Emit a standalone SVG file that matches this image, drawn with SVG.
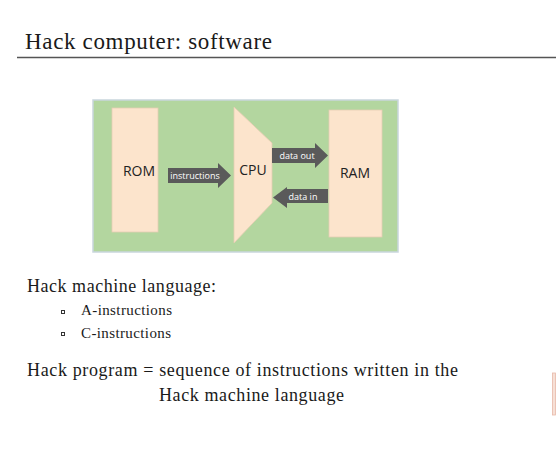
<svg xmlns="http://www.w3.org/2000/svg" width="556" height="460" viewBox="0 0 556 460">
<style>
.serif{font-family:"Liberation Serif","Times New Roman",serif;fill:#1a1a1a}
.lbl{font-family:"Open Sans","Noto Sans",sans-serif;fill:#222;font-size:14px;text-anchor:middle}
.al{font-family:"Open Sans","Noto Sans",sans-serif;fill:#fff;font-size:9px;text-anchor:middle}
.blk{fill:#FCE4CC;stroke:#e6cdb3;stroke-width:0.8}
.arr{fill:#5a5a5a}
.bul{fill:none;stroke:#333;stroke-width:1}
</style>
<rect width="556" height="460" fill="#fff"/>
<text class="serif" x="25" y="49" font-size="23" textLength="247" lengthAdjust="spacing">Hack computer: software</text>
<line x1="17" y1="57.5" x2="556" y2="57.5" stroke="#555" stroke-width="1.5"/>
<g id="board">
<rect x="93" y="100" width="305" height="152" fill="#B3D69F" stroke="#c9d6dd" stroke-width="1.5"/>
</g>
<g id="rom">
<rect class="blk" x="112" y="108" width="46" height="124"/>
<text class="lbl" x="139" y="176">ROM</text>
</g>
<g id="cpu">
<polygon class="blk" points="234,107 272,143 272,203 234,243"/>
<text class="lbl" x="253" y="175">CPU</text>
</g>
<g id="ram">
<rect class="blk" x="329" y="110" width="53" height="127"/>
<text class="lbl" x="355" y="178">RAM</text>
</g>
<g id="connectors">
<polygon class="arr" points="168,168 218,168 218,163 231,175.5 218,188 218,183 168,183"/>
<text class="al" x="195" y="179">instructions</text>
<polygon class="arr" points="272,148 315,148 315,143 328,155.5 315,168 315,163 272,163"/>
<text class="al" x="297" y="159">data out</text>
<polygon class="arr" points="328,189 287,189 287,187 273,197.5 287,208 287,203 328,203"/>
<text class="al" x="303" y="199.5">data in</text>
</g>
<text class="serif" x="27" y="292" font-size="18" textLength="189" lengthAdjust="spacing">Hack machine language:</text>
<rect class="bul" x="61.5" y="310.5" width="3" height="3"/>
<text class="serif" x="81" y="315" font-size="15" textLength="91" lengthAdjust="spacing">A-instructions</text>
<rect class="bul" x="61.5" y="332.5" width="3" height="3"/>
<text class="serif" x="81" y="338" font-size="15" textLength="90" lengthAdjust="spacing">C-instructions</text>
<text class="serif" x="27" y="376" font-size="18" textLength="431" lengthAdjust="spacing">Hack program = sequence of instructions written in the</text>
<text class="serif" x="159" y="401" font-size="18" textLength="185" lengthAdjust="spacing">Hack machine language</text>
<rect x="552.5" y="373" width="3" height="42" fill="#f6e0d6" stroke="#e8b9a8" stroke-width="0.8"/>
</svg>
